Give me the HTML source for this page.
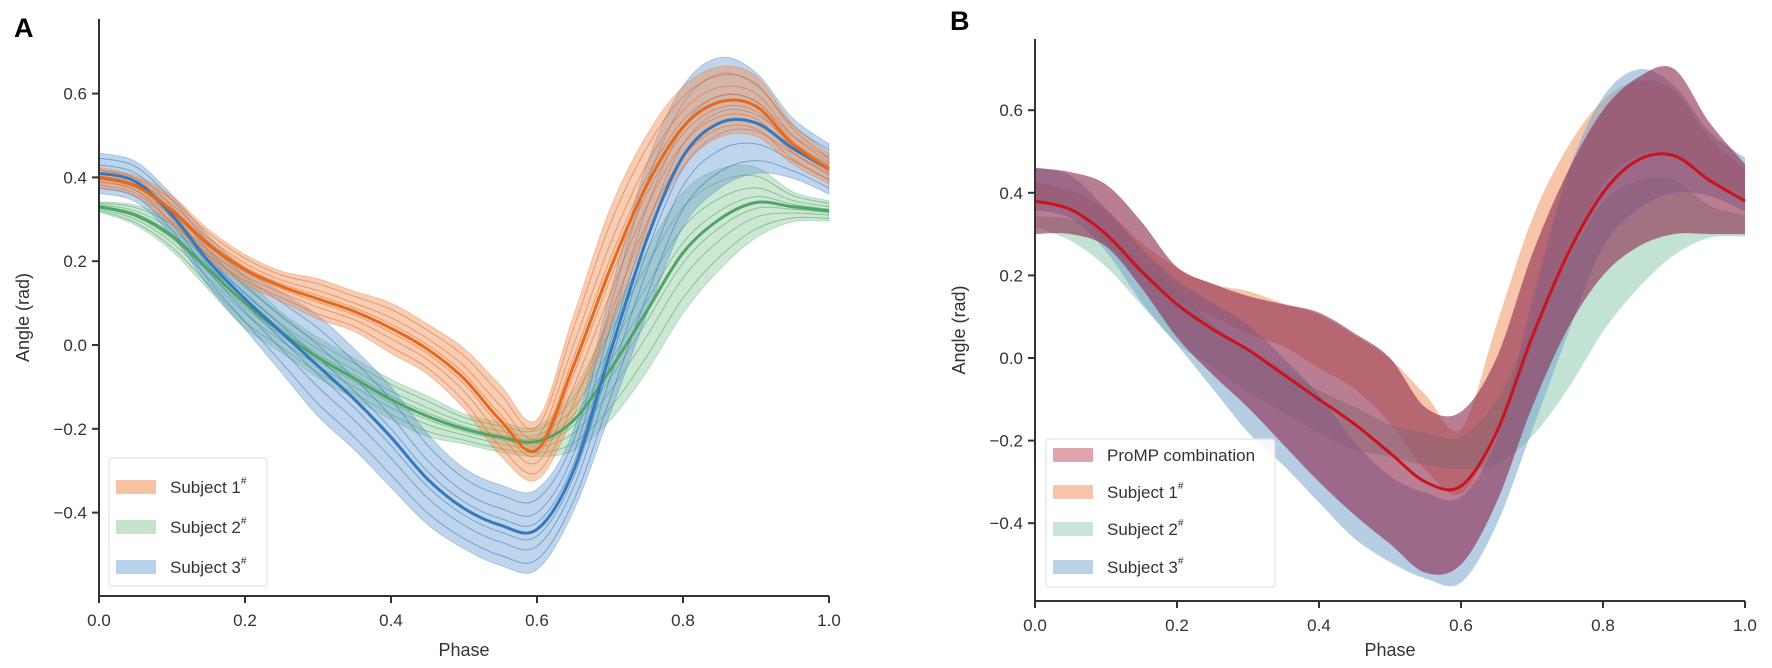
<!DOCTYPE html>
<html><head><meta charset="utf-8"><style>
body{margin:0;background:#fff}
svg{display:block}
text{font-family:"Liberation Sans",sans-serif;fill:#333}
</style></head><body>
<svg id="fig" width="1772" height="668" viewBox="0 0 1772 668">
<g id="panelA"></g>
<g id="panelB"></g>
</svg>
<script>
const phase=[0,0.05,0.1,0.15,0.2,0.25,0.3,0.35,0.4,0.45,0.5,0.55,0.6,0.65,0.7,0.75,0.8,0.85,0.9,0.95,1.0];
const s1Mean=[0.40,0.38,0.32,0.24,0.18,0.14,0.11,0.08,0.04,-0.01,-0.08,-0.18,-0.25,-0.05,0.18,0.38,0.52,0.58,0.57,0.48,0.42];
const s1Sd=[0.02,0.02,0.03,0.03,0.03,0.03,0.04,0.04,0.05,0.05,0.06,0.07,0.06,0.10,0.12,0.10,0.08,0.07,0.06,0.04,0.03];
const s2Mean=[0.33,0.31,0.26,0.18,0.10,0.03,-0.03,-0.08,-0.13,-0.17,-0.20,-0.22,-0.23,-0.18,-0.06,0.08,0.22,0.30,0.34,0.33,0.32];
const s2Sd=[0.01,0.02,0.03,0.04,0.05,0.04,0.04,0.04,0.04,0.04,0.03,0.03,0.03,0.06,0.10,0.12,0.12,0.10,0.07,0.03,0.02];
const s3Mean=[0.41,0.39,0.31,0.20,0.11,0.03,-0.05,-0.13,-0.22,-0.32,-0.39,-0.43,-0.44,-0.30,-0.02,0.25,0.45,0.53,0.53,0.47,0.42];
const s3Sd=[0.04,0.04,0.04,0.05,0.06,0.08,0.10,0.10,0.10,0.09,0.08,0.08,0.08,0.08,0.12,0.15,0.14,0.13,0.10,0.06,0.05];
const combMean=[0.38,0.36,0.30,0.21,0.13,0.07,0.02,-0.04,-0.10,-0.16,-0.23,-0.30,-0.31,-0.18,0.05,0.25,0.40,0.48,0.49,0.43,0.38];
const combUpper=[0.46,0.45,0.42,0.33,0.22,0.18,0.15,0.13,0.11,0.06,0.00,-0.12,-0.13,0.00,0.25,0.45,0.60,0.68,0.70,0.57,0.47];
const combLower=[0.30,0.30,0.27,0.17,0.05,-0.04,-0.12,-0.21,-0.30,-0.38,-0.45,-0.52,-0.50,-0.35,-0.12,0.07,0.20,0.27,0.30,0.30,0.30];
const xTicks=[0,0.2,0.4,0.6,0.8,1.0];
const xTickLabels=["0.0","0.2","0.4","0.6","0.8","1.0"];
const yTicks=[-0.4,-0.2,0,0.2,0.4,0.6];
const yTickLabels=["\u22120.4","\u22120.2","0.0","0.2","0.4","0.6"];

const NS="http://www.w3.org/2000/svg";
function mk(tag,attrs,parent){const e=document.createElementNS(NS,tag);for(const k in attrs)e.setAttribute(k,attrs[k]);parent.appendChild(e);return e;}
function curve(pts){let d="M"+pts[0][0]+","+pts[0][1];for(let i=0;i<pts.length-1;i++){const p0=pts[i-1]||pts[i],p1=pts[i],p2=pts[i+1],p3=pts[i+2]||pts[i+1];
d+=" C"+(p1[0]+(p2[0]-p0[0])/6)+","+(p1[1]+(p2[1]-p0[1])/6)+" "+(p2[0]-(p3[0]-p1[0])/6)+","+(p2[1]-(p3[1]-p1[1])/6)+" "+p2[0]+","+p2[1];}return d;}
function bandPath(sx,sy,up,lo){const a=phase.map((p,i)=>[sx(p),sy(up[i])]);const b=phase.map((p,i)=>[sx(p),sy(lo[i])]).reverse();return curve(a)+" L"+curve(b).slice(1)+" Z";}
function linePath(sx,sy,vals){return curve(phase.map((p,i)=>[sx(p),sy(vals[i])]));}

function axes(g,sx,sy,x0,x1,yTop,yBot,letter,lx,ly){
  const t=mk("text",{x:lx,y:ly,"font-size":"27","font-weight":"bold",style:"fill:#000"},g);t.textContent=letter;
  
  
  const ya=mk("line",{x1:x0,y1:yTop,x2:x0,y2:yBot,stroke:"#333","stroke-width":2},g);
  
  
  const xa=mk("line",{x1:x0,y1:yBot,x2:x1,y2:yBot,stroke:"#333","stroke-width":2},g);
  
  
  xTicks.forEach((v,i)=>{mk("line",{x1:sx(v),y1:yBot,x2:sx(v),y2:yBot+7,stroke:"#333","stroke-width":2},g);
    const l=mk("text",{x:sx(v),y:yBot+30,"font-size":"17","text-anchor":"middle"},g);l.textContent=xTickLabels[i];
    
    });
  yTicks.forEach((v,i)=>{mk("line",{x1:x0-7,y1:sy(v),x2:x0,y2:sy(v),stroke:"#333","stroke-width":2},g);
    const l=mk("text",{x:x0-12,y:sy(v)+6,"font-size":"17","text-anchor":"end"},g);l.textContent=yTickLabels[i];
    
    });
  const xt=mk("text",{x:(x0+x1)/2,y:656,"font-size":"18","text-anchor":"middle"},g);xt.textContent="Phase";
  
  
  const cy=(yTop+yBot)/2+10;const yt=mk("text",{x:0,y:0,"font-size":"18","text-anchor":"middle",transform:"translate("+(x0-70)+","+cy+") rotate(-90)"},g);yt.textContent="Angle (rad)";
  
  
}
function legend(g,x,y,w,h,entries,rowY){
  const box=mk("rect",{x:x,y:y,width:w,height:h,rx:3,fill:"rgba(255,255,255,0.85)",stroke:"#ddd"},g);
  
  
  entries.forEach((e,i)=>{const r=mk("rect",{x:x+7,y:rowY[i]-7,width:40,height:14,fill:e[1]},g);
    
    
    const t=mk("text",{x:x+61,y:rowY[i]+6,"font-size":"17"},g);t.textContent=e[0];
    
    
    if(e[2]){const s=mk("tspan",{dy:"-9","font-size":"10"},t);s.textContent="#";}});
}
const subjects=[[s1Mean,s1Sd,"rgba(240,145,90,0.45)","#e5691c"],[s2Mean,s2Sd,"rgba(110,185,130,0.35)","#4ea564"],[s3Mean,s3Sd,"rgba(100,155,210,0.42)","#3478bd"]];

// Panel A
(function(){
 const g=document.getElementById("panelA");
 const sx=v=>99+v*730, sy=v=>345-v*419;
 const K=1.2;
 [1,2,0].forEach(k=>{const [m,sd,fc,lc]=subjects[k];
  const band=mk("path",{d:bandPath(sx,sy,m.map((v,i)=>v+K*sd[i]),m.map((v,i)=>v-K*sd[i])),fill:fc,stroke:lc,"stroke-opacity":0.3},g);
  
  
  [-0.9,-0.5,-0.2,0.2,0.5,0.9].forEach(o=>{const l=mk("path",{d:linePath(sx,sy,m.map((v,i)=>v+o*sd[i])),fill:"none",stroke:lc,"stroke-width":1,"stroke-opacity":0.55},g);
   
   });
 });
 [1,2,0].forEach(k=>{const [m,sd,fc,lc]=subjects[k];
  const l=mk("path",{d:linePath(sx,sy,m),fill:"none",stroke:lc,"stroke-width":3},g);
  
  });
 axes(g,sx,sy,99,829,19,596,"A",14,37);
 legend(g,109,458,158,128,[["Subject 1","rgba(240,145,90,0.55)",1],["Subject 2","rgba(110,185,130,0.4)",1],["Subject 3","rgba(100,155,210,0.45)",1]],[487,527,567]);
})();

// Panel B
(function(){
 const g=document.getElementById("panelB");
 const sx=v=>1035+v*710, sy=v=>358-v*413;
 const K=1.3;
 const bfill=["rgba(240,150,100,0.55)","rgba(120,190,160,0.45)","rgba(120,165,205,0.55)"];
 [0,1,2].forEach(k=>{const [m,sd]=subjects[k];
  const band=mk("path",{d:bandPath(sx,sy,m.map((v,i)=>v+K*sd[i]),m.map((v,i)=>v-K*sd[i])),fill:bfill[k]},g);
  
  });
 const cb=mk("path",{d:bandPath(sx,sy,combUpper,combLower),fill:"rgba(140,40,75,0.6)"},g);
 
 
 const cl=mk("path",{d:linePath(sx,sy,combMean),fill:"none",stroke:"#c8141e","stroke-width":3},g);
 
 
 axes(g,sx,sy,1035,1745,39,601,"B",950,30);
 legend(g,1046,439,229,148,[["ProMP combination","rgba(200,90,110,0.55)",0],["Subject 1","rgba(240,150,100,0.55)",1],["Subject 2","rgba(120,190,160,0.4)",1],["Subject 3","rgba(120,165,205,0.5)",1]],[455,492,529,567]);
})();
</script>
</body></html>
